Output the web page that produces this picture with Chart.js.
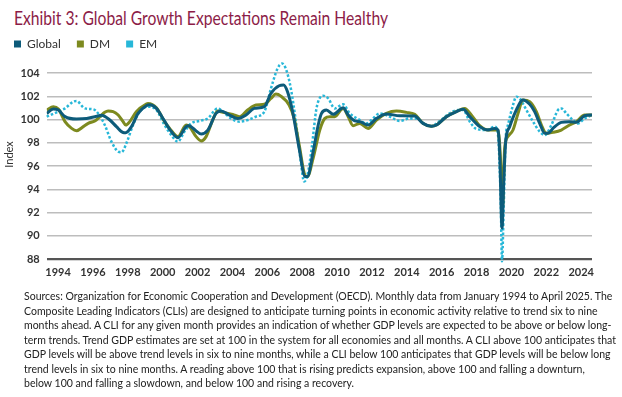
<!DOCTYPE html>
<html>
<head>
<meta charset="utf-8">
<script src="https://cdn.jsdelivr.net/npm/chart.js@4/dist/chart.umd.min.js"></script>
<style>
  html, body { margin: 0; padding: 0; background: #fff; width: 622px; height: 397px; overflow: hidden; }
  #title { position: absolute; left: 14px; top: 7px; font-family: Lato, 'Noto Sans', sans-serif; font-size: 18.5px; color: #8c1c47; white-space: nowrap; transform-origin: 0 0; }
  #wrap { position: absolute; left: 0; top: 0; width: 622px; height: 290px; }
  #note { position: absolute; left: 24px; top: 289px; font-family: Lato, 'Noto Sans', sans-serif; font-size: 11.6px; line-height: 14.5px; color: #222; white-space: nowrap; transform-origin: 0 0; }
</style>
</head>
<body>
<div id="title">Exhibit 3: Global Growth Expectations Remain Healthy</div>
<div id="wrap"><canvas id="c"></canvas></div>
<div id="note">Sources: Organization for Economic Cooperation and Development (OECD). Monthly data from January 1994 to April 2025. The<br>Composite Leading Indicators (CLIs) are designed to anticipate turning points in economic activity relative to trend six to nine<br>months ahead. A CLI for any given month provides an indication of whether GDP levels are expected to be above or below long-<br>term trends. Trend GDP estimates are set at 100 in the system for all economies and all months. A CLI above 100 anticipates that<br>GDP levels will be above trend levels in six to nine months, while a CLI below 100 anticipates that GDP levels will be below long<br>trend levels in six to nine months. A reading above 100 that is rising predicts expansion, above 100 and falling a downturn,<br>below 100 and falling a slowdown, and below 100 and rising a recovery.</div>
<script>
const seriesNames = ['Global', 'DM', 'EM'];
const seriesColors = ['#0d5b7a', '#7d8a1f', '#27b7d8'];

const globalYears = [1994.0,1994.38,1994.67,1995.05,1995.71,1996.29,1996.86,1997.14,1997.62,1998.0,1998.38,1998.53,1998.86,1999.24,1999.71,1999.9,2000.29,2000.67,2001.05,2001.52,2002.0,2002.15,2002.57,2002.86,2003.24,2003.71,2004.0,2004.48,2004.95,2005.43,2005.9,2006.48,2006.86,2007.33,2007.58,2007.81,2008.1,2008.48,2008.82,2008.95,2009.28,2009.57,2009.76,2010.04,2010.43,2010.9,2011.0,2011.29,2011.67,2011.95,2012.43,2012.91,2013.48,2014.25,2015.1,2015.58,2016.06,2016.35,2016.92,2017.49,2017.88,2018.26,2018.83,2019.31,2019.69,2019.88,2019.98,2020.11,2020.21,2020.32,2020.55,2020.84,2021.22,2021.31,2021.7,2021.98,2022.27,2022.56,2022.75,2023.03,2023.51,2023.99,2024.37,2024.85,2025.27];
const globalValues = [100.54,100.92,100.83,100.26,100.06,100.1,100.3,100.37,99.97,99.4,98.9,98.88,99.4,100.54,101.2,101.29,100.97,100.1,99.17,98.45,99.4,99.48,99.03,98.77,99.1,100.54,100.74,100.4,100.1,100.4,100.97,101.12,102.26,102.92,102.98,102.4,100.7,97.5,95.1,95.1,97.25,99.54,100.54,100.83,100.46,100.97,101.03,100.4,99.89,99.83,99.54,100.11,100.49,100.34,100.32,99.68,99.43,99.54,100.26,100.69,100.89,100.26,99.4,99.11,99.25,99.1,96.96,90.66,94.67,98.1,99.4,100.54,101.63,101.69,101.32,100.69,99.68,98.83,98.83,99.25,99.77,99.83,99.77,100.34,100.4];

const dmYears = [1994.0,1994.38,1994.67,1995.05,1995.43,1995.71,1996.1,1996.38,1996.76,1997.05,1997.33,1997.52,1997.81,1998.1,1998.38,1998.53,1998.76,1999.14,1999.71,1999.81,2000.29,2000.76,2001.05,2001.52,2002.0,2002.19,2002.57,2002.86,2003.14,2003.52,2003.81,2004.1,2004.67,2005.05,2005.52,2006.0,2006.48,2006.86,2007.14,2007.43,2007.9,2008.19,2008.48,2008.82,2008.95,2009.28,2009.66,2009.95,2010.24,2010.52,2010.9,2011.0,2011.29,2011.57,2011.95,2012.43,2012.91,2013.48,2014.06,2014.63,2015.1,2015.58,2016.06,2016.35,2016.92,2017.49,2017.97,2018.35,2018.83,2019.31,2019.88,2020.04,2020.13,2020.26,2020.45,2020.74,2021.03,2021.31,2021.7,2022.08,2022.37,2022.65,2023.03,2023.51,2023.99,2024.37,2024.85,2025.27];
const dmValues = [100.83,101.12,100.92,99.83,99.25,99.05,99.4,99.68,99.89,100.26,100.63,100.74,100.69,100.4,99.83,99.54,99.83,100.69,101.35,101.4,101.03,99.83,99.25,98.54,99.54,99.4,98.54,98.17,98.54,99.97,100.74,100.63,100.46,100.26,100.83,101.26,101.32,101.83,102.2,102.03,101.26,100.11,97.82,95.19,95.1,96.68,99.11,100.11,100.26,100.26,100.89,100.97,100.26,99.48,99.68,99.25,99.97,100.54,100.74,100.63,100.46,99.68,99.43,99.54,100.26,100.69,100.97,100.4,99.48,99.11,99.11,96.1,92.3,97.5,98.54,99.11,100.54,101.69,101.55,100.69,99.54,98.83,98.91,99.11,99.54,99.83,100.4,100.4];

const emYears = [1994.0,1994.57,1995.05,1995.52,1995.71,1996.19,1996.67,1996.95,1997.33,1997.71,1998.1,1998.29,1998.57,1998.95,1999.33,1999.81,2000.29,2000.76,2001.14,2001.52,2001.9,2002.29,2002.76,2003.24,2003.81,2004.1,2004.57,2005.05,2005.52,2006.0,2006.48,2006.86,2007.24,2007.49,2007.71,2008.0,2008.29,2008.57,2008.76,2008.95,2009.2,2009.47,2009.85,2010.14,2010.52,2011.0,2011.38,2011.86,2012.34,2012.62,2013.1,2013.67,2014.25,2014.82,2015.2,2015.68,2016.06,2016.54,2017.11,2017.59,2017.88,2018.26,2018.64,2019.21,2019.69,2019.88,2020.04,2020.11,2020.21,2020.32,2020.45,2020.74,2020.93,2021.12,2021.51,2021.89,2022.27,2022.56,2022.94,2023.32,2023.51,2023.8,2024.18,2024.47,2024.85,2025.27];
const emValues = [100.26,100.63,100.97,101.55,101.6,100.97,100.89,100.54,99.54,98.11,97.25,97.19,97.97,99.54,100.69,101.12,100.83,99.54,98.68,98.11,98.97,99.68,99.89,100.11,100.97,100.69,100.11,99.83,99.97,100.26,100.69,102.69,104.41,104.84,104.41,102.69,99.83,96.39,94.67,95.2,97.6,100.97,102.06,101.83,100.97,101.32,100.54,100.06,99.68,99.97,100.54,100.26,99.89,100.11,100.11,99.6,99.43,99.89,100.54,100.83,100.83,99.83,99.2,99.11,99.4,98.68,92.66,87.8,92.66,98.4,99.54,101.26,101.98,101.83,100.83,99.83,98.97,98.68,99.54,100.83,100.97,100.54,99.97,99.68,100.11,100.4];

const xTickLabels = ['1994','1996','1998','2000','2002','2004','2006','2008','2010','2012','2014','2016','2018','2020','2022','2024'];
const yTicks = [88, 90, 92, 94, 96, 98, 100, 102, 104];

// fit the HTML title / footnote to the reference widths
function fitWidth(id, target) {
  const el = document.getElementById(id);
  const w = el.getBoundingClientRect().width;
  el.style.transform = 'scaleX(' + (target / w) + ')';
}
fitWidth('title', 374);
fitWidth('note', 592);

const FONT = "Lato, 'Noto Sans', sans-serif";
const pts = (xs, ys) => xs.map((x, i) => ({ x: x, y: ys[i] }));

const legendTweaks = {
  id: 'legendTweaks',
  beforeInit(chart) {
    const orig = chart.legend.fit;
    chart.legend.fit = function () { orig.bind(chart.legend)(); this.height = 28; };
  },
  afterLayout(chart) { chart.legend.left = -2; }
};

new Chart(document.getElementById('c'), {
  type: 'line',
  data: {
    datasets: [
      { label: seriesNames[0], data: pts(globalYears, globalValues), borderColor: seriesColors[0], backgroundColor: seriesColors[0], borderWidth: 3, pointRadius: 0, cubicInterpolationMode: 'monotone' },
      { label: seriesNames[1], data: pts(dmYears, dmValues), borderColor: seriesColors[1], backgroundColor: seriesColors[1], borderWidth: 3, pointRadius: 0, cubicInterpolationMode: 'monotone' },
      { label: seriesNames[2], data: pts(emYears, emValues), borderColor: seriesColors[2], backgroundColor: seriesColors[2], borderWidth: 2.5, borderDash: [2.5, 2], pointRadius: 0, cubicInterpolationMode: 'monotone', clip: false }
    ]
  },
  options: {
    responsive: true,
    maintainAspectRatio: false,
    animation: false,
    layout: { padding: { left: 0, right: 30, top: 22, bottom: 0 } },
    plugins: {
      tooltip: { enabled: false },
      legend: {
        position: 'top',
        align: 'start',
        labels: {
          boxWidth: 7, boxHeight: 7, padding: 16, color: '#333',
          font: { family: FONT, size: 12 },
          generateLabels(chart) {
            return Chart.defaults.plugins.legend.labels.generateLabels(chart).map(l => Object.assign(l, { lineWidth: 0, lineDash: [], strokeStyle: 'rgba(0,0,0,0)' }));
          }
        }
      }
    },
    scales: {
      x: {
        type: 'linear', min: 1994.0, max: 2025.27,
        afterBuildTicks(scale) { scale.ticks = xTickLabels.map(l => ({ value: Number(l) + 0.65 })); },
        afterFit(scale) { scale.height = 31; },
        grid: { display: false, drawTicks: false },
        border: { display: false },
        ticks: { autoSkip: false, maxRotation: 0, padding: 7, color: '#333', font: { family: FONT, size: 11, weight: 'bold' },
          callback(v, i) { return xTickLabels[i]; } }
      },
      y: {
        min: 88, max: 106,
        afterBuildTicks(scale) { scale.ticks = yTicks.map(v => ({ value: v })); },
        afterFit(scale) { scale.width = 46.7; },
        title: { display: true, text: 'Index', color: '#333', font: { family: FONT, size: 11 }, padding: { top: 3, bottom: 2 } },
        grid: {
          drawTicks: false,
          color: ctx => ctx.tick && ctx.tick.value === 88 ? '#555' : '#bdbdbd',
          lineWidth: ctx => ctx.tick && ctx.tick.value === 88 ? 2.2 : 1.6
        },
        border: { display: false },
        ticks: { padding: 7, color: '#333', font: { family: FONT, size: 11, weight: 'bold' }, callback: v => String(v) }
      }
    }
  },
  plugins: [legendTweaks]
});
</script>
</body>
</html>
